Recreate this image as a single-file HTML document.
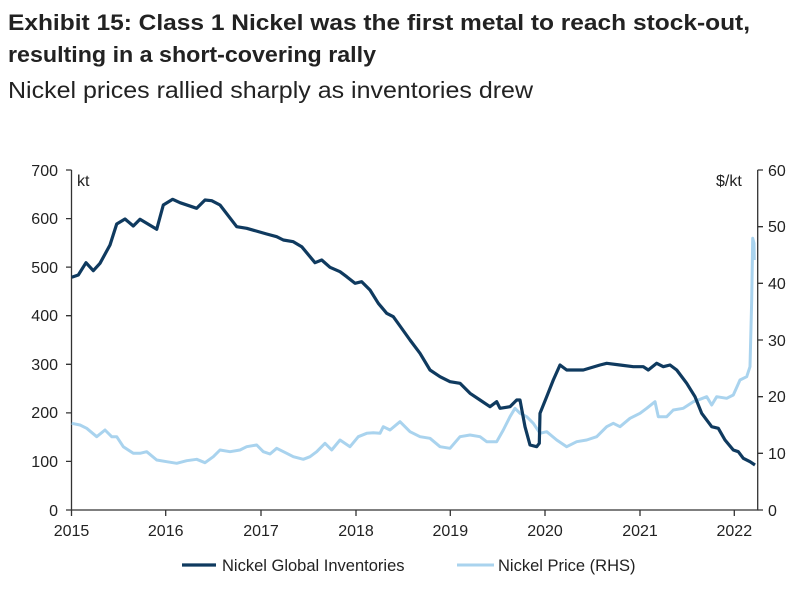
<!DOCTYPE html>
<html><head><meta charset="utf-8"><style>
html,body{margin:0;padding:0;background:#fff;}
svg{display:block;font-family:"Liberation Sans",Arial,sans-serif;}
</style></head><body>
<svg width="806" height="594" viewBox="0 0 806 594" xmlns="http://www.w3.org/2000/svg">
<text x="8" y="30" font-size="22" font-weight="bold" fill="#222" textLength="742" lengthAdjust="spacingAndGlyphs">Exhibit 15: Class 1 Nickel was the first metal to reach stock-out,</text>
<text x="8" y="62" font-size="22" font-weight="bold" fill="#222" textLength="368" lengthAdjust="spacingAndGlyphs">resulting in a short-covering rally</text>
<text x="8" y="98" font-size="23" fill="#222" textLength="525" lengthAdjust="spacingAndGlyphs">Nickel prices rallied sharply as inventories drew</text>

<g stroke="#333" stroke-width="1.3" fill="none">
<path d="M71.5,170 V510 H757.7 V170"/>
<path d="M66,170H71.5M66,218.6H71.5M66,267.1H71.5M66,315.7H71.5M66,364.3H71.5M66,412.9H71.5M66,461.4H71.5M66,510H71.5"/>
<path d="M757.7,170H763M757.7,226.7H763M757.7,283.3H763M757.7,340H763M757.7,396.7H763M757.7,453.3H763M757.7,510H763"/>
<path d="M71.5,510V516M165.7,510V516M261,510V516M356,510V516M450.3,510V516M545,510V516M640,510V516M734.3,510V516"/>
</g>
<g font-size="16" fill="#222" text-anchor="end">
<text x="58" y="176">700</text><text x="58" y="224">600</text><text x="58" y="273">500</text><text x="58" y="321">400</text><text x="58" y="370">300</text><text x="58" y="418">200</text><text x="58" y="467">100</text><text x="58" y="516">0</text>
</g>
<g font-size="16" fill="#222">
<text x="768" y="176">60</text><text x="768" y="232">50</text><text x="768" y="289">40</text><text x="768" y="346">30</text><text x="768" y="402">20</text><text x="768" y="459">10</text><text x="768" y="516">0</text>
<text x="77" y="186">kt</text><text x="716" y="186">$/kt</text>
</g>
<g font-size="16" fill="#222" text-anchor="middle">
<text x="71.5" y="536">2015</text><text x="165.7" y="536">2016</text><text x="261" y="536">2017</text><text x="356" y="536">2018</text><text x="450.3" y="536">2019</text><text x="545" y="536">2020</text><text x="640" y="536">2021</text><text x="734.3" y="536">2022</text>
</g>

<polyline fill="none" stroke="#a9d3ee" stroke-width="3" stroke-linejoin="round" points="71.7,423.3 80,425 86.7,428.3 96.7,436.7 105,430 111.7,436.7 116.7,436.7 123.3,446.7 133.3,453.3 140,453.3 146.7,451.7 156.7,460 166.7,461.7 176.7,463.3 186.7,460.7 196.7,459.3 205,462.7 213.3,456.7 220,450 230,451.7 240,450 246.7,446.7 256.7,445 263.3,451.7 270,454 276.7,448.3 286.7,453.3 293.3,456.7 303.3,459.3 310,456.7 316.7,451.7 325,443.3 331.7,450 340,440 350,446.7 358.3,436.7 366.7,433.3 373.3,432.7 380,433.3 383.3,426.7 390,430 400,421.7 410,431.7 420,436.7 430,438.3 440,446.7 450,448.3 460,436.7 470,435 480,436.7 486.7,441.7 496.7,441.7 503.3,430 510,416.7 515,408.3 520,413.3 526.7,416.7 533.3,423.3 540,433.3 546.7,431.7 556.7,440 566.7,446.7 576.7,441.7 586.7,440 596.7,436.7 606.7,426.7 613.3,423.3 620,426.7 630,418.3 640,413.3 646.7,408.3 655,401.7 658.3,416.7 666.7,416.7 673.3,410 683.3,408.3 693.3,401.7 700,399.3 706.7,396.7 711.7,405 716.7,396.7 726.7,398.3 733.3,395 740,380 746.7,376.7 750,366.7 751.7,300 752.7,238.3 754,243.3 754.3,260"/>

<polyline fill="none" stroke="#0f3a5f" stroke-width="3.2" stroke-linejoin="round" points="71.7,277.3 78.3,275 86,262.7 93.3,270.7 100,263.3 110,245 116.7,224 125,219 133.3,226 140,219.3 156.7,229.3 163.3,205 172.7,199.3 180,202.7 196.7,208.3 205,200 211.7,200.7 220,205 236.7,226.7 246.7,228.3 266.7,234 276.7,236.7 283.3,240 293.3,241.7 301.7,246.7 315,262.7 321.7,260 330,267.3 340,271.7 346.7,276.7 355,283.3 361.7,281.7 370,290 378.3,303.3 386.7,313.3 393.3,316.7 400,326 410,340 420,353.3 430,370 440,376.7 450,381.7 460,383.3 470,393.3 480,400 490,406.7 496.7,401.7 500,408.3 510,406.7 516.7,400 520,400 525,426.7 530,445 536.7,446.7 539.3,443.3 540,413.3 546.7,396.7 553.3,380 560,365 566.7,370 583.3,370 600,365 606.7,363.3 620,365 633.3,366.7 643.3,366.7 648.3,370 656.7,363.3 663.3,366.7 670,365 676.7,370 686.7,383.3 695,396.7 701.7,413.3 711.7,426.7 718.3,428.3 725,440 733.3,450 738.3,451.7 743.3,458.3 750,461.7 755,465"/>

<line x1="182" y1="565" x2="216" y2="565" stroke="#0f3a5f" stroke-width="3.2"/>
<text x="222" y="571" font-size="16.5" fill="#222">Nickel Global Inventories</text>
<line x1="457" y1="565" x2="494" y2="565" stroke="#a9d3ee" stroke-width="3"/>
<text x="498" y="571" font-size="16.5" fill="#222">Nickel Price (RHS)</text>
</svg>
</body></html>
